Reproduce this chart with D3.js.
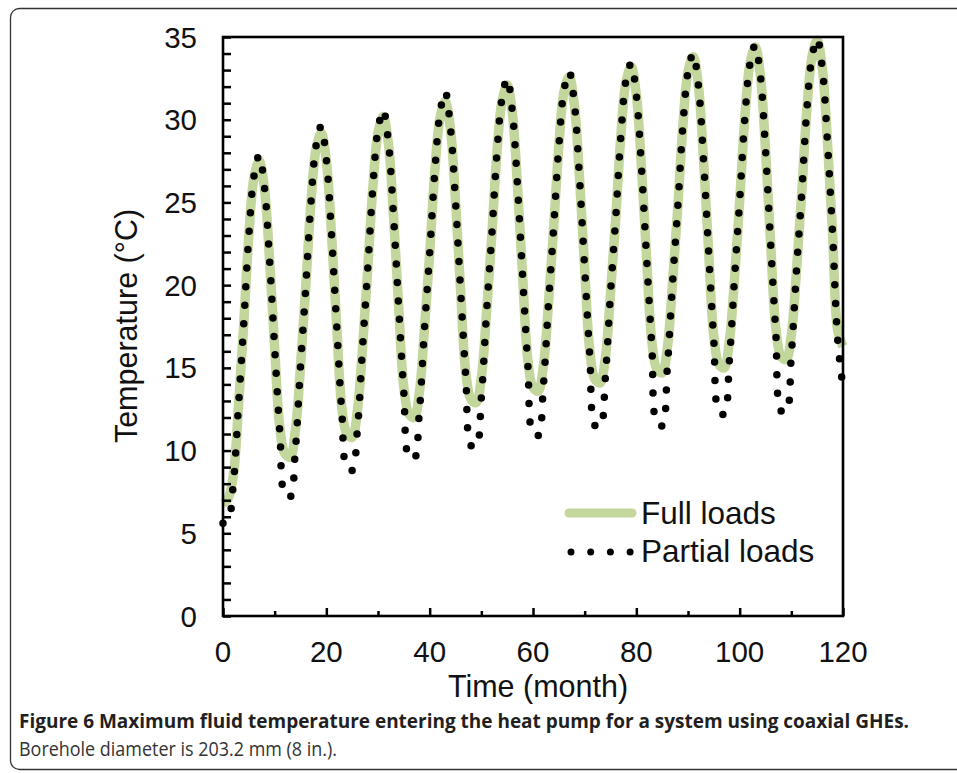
<!DOCTYPE html>
<html>
<head>
<meta charset="utf-8">
<script src="https://cdn.jsdelivr.net/npm/d3@7"></script>
<style>
  body { margin: 0; background: #fff; }
  svg { display: block; }
  text { font-family: "Liberation Sans", Arial, sans-serif; fill: #111; }
</style>
</head>
<body>
<svg width="957" height="773"></svg>
<script>
// monthly values, month 0..120
var fullLoads = [
  6.8, 7.1, 8.5, 12.7, 17.6, 23.0, 26.5, 27.5, 25.9, 21.6, 16.2, 11.4, 9.8,
  9.6, 11.2, 15.1, 19.8, 24.9, 28.2, 29.2, 27.5, 23.1, 17.6, 12.6, 11.0,
  10.8, 12.4, 16.2, 20.9, 25.9, 29.2, 30.2, 28.6, 24.2, 18.7, 13.8, 12.2,
  12.0, 13.5, 17.4, 21.9, 26.9, 30.1, 31.1, 29.5, 25.1, 19.6, 14.7, 13.1,
  12.9, 14.4, 18.3, 22.9, 27.9, 31.1, 32.1, 30.4, 26.0, 20.5, 15.5, 13.8,
  13.6, 15.1, 18.9, 23.5, 28.4, 31.7, 32.6, 30.9, 26.5, 21.0, 16.0, 14.3,
  14.1, 15.6, 19.5, 24.0, 29.0, 32.3, 33.2, 31.5, 27.1, 21.6, 16.6, 14.9,
  14.7, 16.2, 20.1, 24.6, 29.6, 32.9, 33.8, 32.1, 27.6, 22.0, 16.9, 15.2,
  15.0, 16.6, 20.4, 25.1, 30.1, 33.4, 34.4, 32.7, 28.2, 22.5, 17.4, 15.7,
  15.5, 17.0, 20.9, 25.5, 30.6, 33.8, 34.8, 33.1, 28.6, 23.0, 17.2, 16.3
];
var partialLoads = [
  5.6, 5.8, 8.0, 12.7, 17.6, 23.0, 26.6, 27.85, 26.0, 21.6, 16.2, 11.1, 7.3,
  7.2, 10.0, 15.1, 19.8, 24.9, 28.4, 29.6, 27.6, 23.1, 17.6, 12.3, 8.9,
  8.8, 11.2, 16.2, 20.9, 25.9, 29.4, 30.6, 28.7, 24.2, 18.7, 13.5, 9.6,
  9.5, 12.3, 17.4, 21.9, 26.9, 30.4, 31.7, 29.6, 25.1, 19.6, 14.4, 10.3,
  10.2, 13.2, 18.3, 22.9, 27.9, 31.3, 32.5, 30.5, 26.0, 20.5, 15.2, 11.0,
  10.9, 13.9, 18.9, 23.5, 28.4, 31.8, 32.9, 31.0, 26.5, 21.0, 15.7, 11.5,
  11.4, 14.4, 19.5, 24.0, 29.0, 32.4, 33.4, 31.5, 27.1, 21.6, 16.3, 11.6,
  11.5, 15.0, 20.1, 24.6, 29.6, 32.9, 34.0, 32.1, 27.6, 22.0, 16.6, 12.3,
  12.2, 15.4, 20.4, 25.1, 30.1, 33.4, 34.5, 32.7, 28.2, 22.5, 17.1, 12.4,
  12.3, 15.8, 20.9, 25.5, 30.6, 33.8, 34.9, 33.1, 28.6, 23.0, 16.6, 13.8
];
var xTicks = [0, 20, 40, 60, 80, 100, 120];
var xMinor = [10, 30, 50, 70, 90, 110];
var yTicks = [0, 5, 10, 15, 20, 25, 30, 35];
var seriesNames = ["Full loads", "Partial loads"];

var svg = d3.select("svg"),
    plotL = 223, plotR = 843, plotT = 37, plotB = 616;

var x = d3.scaleLinear().domain([0, 120]).range([plotL, plotR]);
var y = d3.scaleLinear().domain([0, 35]).range([plotB, plotT]);

// outer figure frame
svg.append("rect")
  .attr("x", 10.5).attr("y", 8.5)
  .attr("width", 980).attr("height", 761)
  .attr("rx", 9)
  .attr("fill", "none").attr("stroke", "#333").attr("stroke-width", 1.3);

var line = d3.line()
  .x(function(d, i) { return x(i); })
  .y(function(d) { return y(d); })
  .curve(d3.curveCatmullRom.alpha(0.5));

svg.append("path")
  .attr("d", line(fullLoads))
  .attr("fill", "none")
  .attr("stroke", "#c3d69b")
  .attr("stroke-width", 9.5)
  .attr("stroke-linejoin", "round");

svg.append("path")
  .attr("d", line(partialLoads))
  .attr("fill", "none")
  .attr("stroke", "#000")
  .attr("stroke-width", 7.5)
  .attr("stroke-linecap", "round")
  .attr("stroke-dasharray", "0 18.5");

// axes (ticks pointing inward)
var yAxis = d3.axisLeft(y).tickValues(d3.range(0, 36, 1)).tickSize(-8).tickFormat("");
var gy = svg.append("g").attr("transform", "translate(" + plotL + ",0)").call(yAxis);
var xAxis = d3.axisBottom(x).tickValues(xTicks).tickSize(-8).tickFormat("");
var gx = svg.append("g").attr("transform", "translate(0," + plotB + ")").call(xAxis);
var xAxisMinor = d3.axisBottom(x).tickValues(xMinor).tickSize(-5).tickFormat("");
var gx2 = svg.append("g").attr("transform", "translate(0," + plotB + ")").call(xAxisMinor);
[gy, gx, gx2].forEach(function(g) {
  g.select(".domain").remove();
  g.selectAll("line").attr("stroke", "#000").attr("stroke-width", 2.5);
});

svg.append("rect")
  .attr("x", plotL).attr("y", plotT)
  .attr("width", plotR - plotL).attr("height", plotB - plotT)
  .attr("fill", "none").attr("stroke", "#000").attr("stroke-width", 2.6);

// tick labels
svg.selectAll(".ylab").data(yTicks).enter().append("text")
  .attr("class", "ylab")
  .attr("x", 197).attr("y", function(d) { return y(d) + 10.5; })
  .attr("text-anchor", "end").attr("font-size", 29.5)
  .text(function(d) { return d; });

svg.selectAll(".xlab").data(xTicks).enter().append("text")
  .attr("class", "xlab")
  .attr("x", function(d) { return x(d); }).attr("y", 662)
  .attr("text-anchor", "middle").attr("font-size", 29.5)
  .text(function(d) { return d; });

svg.append("text")
  .attr("transform", "translate(137,326) rotate(-90)")
  .attr("text-anchor", "middle").attr("font-size", 30.5)
  .text("Temperature (°C)");

svg.append("text")
  .attr("x", 538).attr("y", 697)
  .attr("text-anchor", "middle").attr("font-size", 30.5)
  .text("Time (month)");

// legend
var lg = svg.append("g");
lg.append("line")
  .attr("x1", 569).attr("x2", 632).attr("y1", 513).attr("y2", 513)
  .attr("stroke", "#c3d69b").attr("stroke-width", 9).attr("stroke-linecap", "round");
lg.append("line")
  .attr("x1", 571).attr("x2", 632).attr("y1", 552).attr("y2", 552)
  .attr("stroke", "#000").attr("stroke-width", 7)
  .attr("stroke-linecap", "round").attr("stroke-dasharray", "0 19.7");
lg.selectAll("text").data(seriesNames).enter().append("text")
  .attr("x", 641).attr("y", function(d, i) { return 524 + i * 38; })
  .attr("font-size", 31.5)
  .text(function(d) { return d; });

// caption
svg.append("text")
  .attr("x", 19).attr("y", 728)
  .attr("font-size", 19.5)
  .attr("textLength", 890).attr("lengthAdjust", "spacingAndGlyphs")
  .style("font-family", "'Liberation Sans Narrow', 'Open Sans', sans-serif")
  .style("font-weight", "bold").style("fill", "#231f20")
  .text("Figure 6 Maximum fluid temperature entering the heat pump for a system using coaxial GHEs.");

svg.append("text")
  .attr("x", 19).attr("y", 756)
  .attr("font-size", 19.5)
  .attr("textLength", 318).attr("lengthAdjust", "spacingAndGlyphs")
  .style("font-family", "'Liberation Sans Narrow', 'Open Sans', sans-serif")
  .style("fill", "#333")
  .text("Borehole diameter is 203.2 mm (8 in.).");
</script>
</body>
</html>
